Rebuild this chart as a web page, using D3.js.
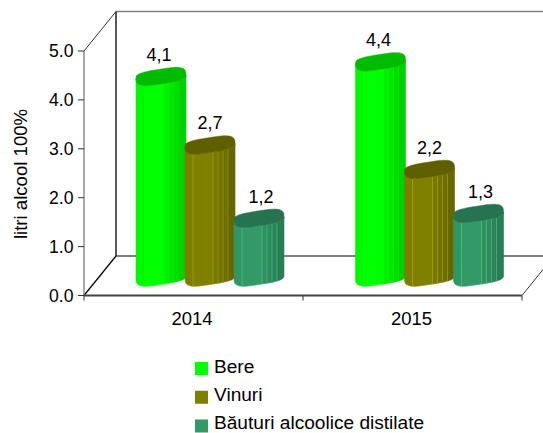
<!DOCTYPE html>
<html><head><meta charset="utf-8">
<script src="https://cdn.jsdelivr.net/npm/d3@7/dist/d3.min.js"></script>
<style>html,body{margin:0;padding:0;background:#fff}svg{display:block}text{font-family:"Liberation Sans",Arial,sans-serif;fill:#000}</style>
</head><body><svg id="c" width="543" height="433"></svg>
<script>
const categories = ["2014","2015"];
const seriesNames = ["Bere","Vinuri","Băuturi alcoolice distilate"];
const bere = [4.1,4.4];
const vinuri = [2.7,2.2];
const bauturi = [1.2,1.3];
const valueLabels = [["4,1","4,4"],["2,7","2,2"],["1,2","1,3"]];
const ticks = [0,1,2,3,4,5];
const yTitle = "litri alcool 100%";
const colors = ["#00ff00","#808000","#339966"];
const topColors = ["#00bb00","#5f5f00","#267350"];
const rightColors = ["#00d000","#666600","#2a7a53"];

const svg = d3.select("#c");
const W=543, H=433;
const x0=84, xEnd=522, dx=32, dy=39.5, yBottom=295.5, yTop=51;
const y = d3.scaleLinear().domain([0,5]).range([yBottom,yTop]);
const xCat = d3.scaleBand().domain(categories).range([x0,xEnd]);
const xSer = d3.scaleBand().domain(d3.range(3)).range([0,147]);
const series = [bere,vinuri,bauturi];
const clip = svg.append("defs").append("clipPath").attr("id","pg");
clip.append("rect").attr("width",W).attr("height",H);
const g = svg.append("g").attr("clip-path","url(#pg)");

const ln=(a,b,c,d,col,w)=>g.append("line").attr("x1",a).attr("y1",b).attr("x2",c).attr("y2",d).attr("stroke",col).attr("stroke-width",w);
ln(x0+dx,y(5)-dy,W+20,y(5)-dy,"#808080",1.5);
ln(x0,y(5),x0+dx,y(5)-dy,"#333",1);
ln(x0+dx,y(5)-dy,x0+dx,y(0)-dy,"#222",1.5);
ln(x0,y(0),x0+dx,y(0)-dy,"#000",1.2);
ln(x0+dx,y(0)-dy,W+20,y(0)-dy,"#000",1.2);
ln(xEnd,y(0),xEnd+dx,y(0)-dy,"#333",1);
ln(x0,y(0),xEnd,y(0),"#444",2);
ln(x0,y(5),x0,y(0),"#555",1);
ticks.forEach(t=>{
  ln(x0-6,y(t),x0,y(t),"#333",1);
  g.append("text").attr("x",x0-10.5).attr("y",y(t)+6.3).attr("text-anchor","end").attr("font-size",17.6).text(t.toFixed(1));
});
[x0,x0+219,xEnd].forEach(v=>ln(v,y(0),v,y(0)+5,"#333",1));

const barOffset = 52;
const yBase = y(0)-18.5;
const labelShift = d3.scaleOrdinal().domain([0,1,2]).range([-2,0,2]);
const shape = d3.line().curve(d3.curveLinearClosed);
const px=0.6, py=0.65;
function ellipsePt(cx,a,t){
  const c=Math.cos(t), s=Math.sin(t);
  const sx=Math.sign(c)*Math.pow(Math.abs(c),px);
  const sy=Math.sign(s)*Math.pow(Math.abs(s),py);
  return [cx+a*sx, 7.5*sy-sx*(1.5+2.3*Math.abs(sy))];
}
// cylinder side facets, as fractions of the half width
const facetEdges=[-1,-0.68,0.12,0.32,0.52,0.72,1];
const facetShade=[0.12,0,0.3,0.5,0.7,0.95];
const uToT=u=>Math.acos(Math.sign(u)*Math.pow(Math.abs(u),1/px));
categories.forEach((cat,ci)=>{
  const gx = xCat(cat)+barOffset + (ci? 0.5:0);
  series.forEach((vals,si)=>{
    const a=xSer.bandwidth()/2+0.5;
    const cx=gx+xSer(si)+a;
    const h=y(0)-y(vals[ci]);
    const ty=yBase-h;
    const mix=d3.interpolateRgb(colors[si],rightColors[si]);
    d3.range(facetShade.length).forEach(i=>{
      const tA=uToT(facetEdges[i]), tB=uToT(facetEdges[i+1]);
      const steps=d3.range(0,9).map(k=>ellipsePt(cx,a,tA+(tB-tA)*k/8));
      const col=mix(facetShade[i]);
      const poly=[...steps.map(p=>[p[0],ty+p[1]]),...steps.slice().reverse().map(p=>[p[0],yBase+p[1]])];
      g.append("path").attr("d",shape(poly)).attr("fill",col).attr("stroke",col).attr("stroke-width",0.6);
    });
    facetEdges.slice(1,-1).forEach(u=>{
      const p=ellipsePt(cx,a,uToT(u));
      g.append("line").attr("x1",p[0]).attr("y1",ty+p[1]).attr("x2",p[0]).attr("y2",yBase+p[1])
        .attr("stroke",d3.color(colors[si]).brighter(1.2)).attr("stroke-opacity",si==0?0.45:0.5).attr("stroke-width",0.8);
    });
    const pts=d3.range(0,48).map(i=>{const p=ellipsePt(cx,a,i/48*2*Math.PI);return [p[0],ty+p[1]];});
    g.append("path").attr("d",shape(pts)).attr("fill",topColors[si]).attr("stroke",topColors[si]).attr("stroke-width",0.5);
    g.append("text").attr("x",cx+labelShift(si)).attr("y",ty-15.5).attr("text-anchor","middle").attr("font-size",18).text(valueLabels[si][ci]);
  });
  g.append("text").attr("x",gx+56).attr("y",325).attr("text-anchor","middle").attr("font-size",18.5).text(cat);
});

g.append("text").attr("transform",`translate(27,174) rotate(-90)`).attr("text-anchor","middle").attr("font-size",18.6).text(yTitle);

seriesNames.forEach((n,i)=>{
  const ly=d3.scalePoint().domain(d3.range(3)).range([368,425.5])(i);
  g.append("rect").attr("x",195).attr("y",ly-6).attr("width",13).attr("height",13).attr("fill",colors[i]);
  g.append("text").attr("x",214).attr("y",ly+3.8+(2-i)*0.4).attr("font-size",19.1).text(n);
});
</script></body></html>
